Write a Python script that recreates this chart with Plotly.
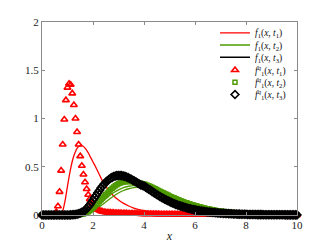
import numpy as np
import plotly.graph_objects as go

# sample grid used for the quadrature markers (step 1/16)
x_grid = np.linspace(0, 10, 161)

# f1^q(x,t1) - red triangles
red_q = [
    0, 0, 0, 0, 0, 0, 0, 0, 0, 0.03, 0.09, 0.24, 0.46, 0.73, 0.99, 1.19,
    1.32, 1.36, 1.35, 1.26, 1.14, 1.00, 0.86, 0.73, 0.61, 0.51, 0.42, 0.34, 0.27, 0.21, 0.165, 0.13,
    0.10, 0.08, 0.065, 0.055, 0.046, 0.04, 0.035, 0.031, 0.028, 0.026, 0.025, 0.024, 0.023, 0.022, 0.021, 0.02,
    0.019, 0.019, 0.018, 0.018, 0.017, 0.017, 0.016, 0.016, 0.015, 0.015, 0.014, 0.014, 0.013, 0.013, 0.012, 0.012,
    0.012, 0.011, 0.011, 0.011, 0.010, 0.010, 0.010, 0.009, 0.009, 0.009, 0.008, 0.008, 0.008, 0.008, 0.007, 0.007,
    0.007, 0.007, 0.006, 0.006, 0.006, 0.006, 0.006, 0.005, 0.005, 0.005, 0.005, 0.005, 0.004, 0.004, 0.004, 0.004,
    0.004, 0.004, 0.004, 0.003, 0.003, 0.003, 0.003, 0.003, 0.003, 0.003, 0.003, 0.002, 0.002, 0.002, 0.002, 0.002,
    0.002, 0.002, 0.002, 0.002, 0.002, 0.002, 0.002, 0.002, 0.002, 0.002, 0.002, 0.002, 0.002, 0.002, 0.002, 0.002,
    0.002, 0.002, 0.002, 0.002, 0.002, 0.002, 0.002, 0.002, 0.001, 0.001, 0.001, 0.001, 0.001, 0.001, 0.001, 0.001,
    0.001, 0.001, 0.001, 0.001, 0.001, 0.001, 0.001, 0.001, 0.001, 0.001, 0.001, 0.001, 0.001, 0.001, 0.001, 0.001,
    0.001,
]

# f1^q(x,t2) - green squares
green_q = [
    0, 0, 0, 0, 0, 0, 0, 0, 0, 0, 0, 0, 0, 0, 0, 0,
    0, 0, 0, 0, 0, 0, 0.001, 0.002, 0.004, 0.007, 0.011, 0.017, 0.024, 0.033, 0.044, 0.057,
    0.072, 0.088, 0.105, 0.122, 0.14, 0.158, 0.176, 0.194, 0.212, 0.229, 0.246, 0.262, 0.277, 0.291, 0.303, 0.314,
    0.323, 0.331, 0.337, 0.342, 0.345, 0.347, 0.348, 0.348, 0.347, 0.345, 0.343, 0.34, 0.337, 0.333, 0.329, 0.325,
    0.32, 0.315, 0.309, 0.302, 0.295, 0.287, 0.279, 0.271, 0.263, 0.255, 0.247, 0.239, 0.231, 0.222, 0.214, 0.206,
    0.198, 0.19, 0.182, 0.175, 0.167, 0.16, 0.153, 0.146, 0.139, 0.133, 0.127, 0.121, 0.115, 0.109, 0.104, 0.099,
    0.094, 0.089, 0.085, 0.081, 0.077, 0.073, 0.069, 0.065, 0.062, 0.059, 0.056, 0.053, 0.05, 0.047, 0.045, 0.042,
    0.04, 0.038, 0.036, 0.034, 0.032, 0.03, 0.029, 0.027, 0.026, 0.024, 0.023, 0.022, 0.021, 0.02, 0.019, 0.018,
    0.017, 0.016, 0.015, 0.014, 0.013, 0.013, 0.012, 0.011, 0.011, 0.01, 0.01, 0.009, 0.009, 0.008, 0.008, 0.008,
    0.007, 0.007, 0.006, 0.006, 0.006, 0.005, 0.005, 0.005, 0.005, 0.004, 0.004, 0.004, 0.004, 0.004, 0.003, 0.003,
    0.003,
]

# f1^q(x,t3) - black diamonds
black_q = [
    0, 0, 0, 0, 0, 0, 0, 0, 0, 0, 0, 0, 0, 0, 0, 0,
    0, 0, 0.001, 0.002, 0.004, 0.006, 0.009, 0.013, 0.02, 0.028, 0.037, 0.048, 0.065, 0.085, 0.105, 0.13,
    0.155, 0.18, 0.205, 0.23, 0.255, 0.28, 0.3, 0.32, 0.34, 0.355, 0.368, 0.38, 0.39, 0.398, 0.404, 0.408,
    0.41, 0.41, 0.408, 0.405, 0.4, 0.394, 0.387, 0.379, 0.37, 0.361, 0.351, 0.341, 0.331, 0.321, 0.311, 0.305,
    0.30, 0.289, 0.278, 0.267, 0.256, 0.245, 0.234, 0.223, 0.212, 0.202, 0.192, 0.182, 0.173, 0.164, 0.155, 0.147,
    0.139, 0.131, 0.124, 0.117, 0.11, 0.104, 0.098, 0.092, 0.087, 0.082, 0.077, 0.072, 0.068, 0.064, 0.06, 0.056,
    0.053, 0.05, 0.047, 0.044, 0.041, 0.039, 0.036, 0.034, 0.032, 0.03, 0.028, 0.026, 0.025, 0.023, 0.022, 0.02,
    0.019, 0.018, 0.017, 0.016, 0.015, 0.014, 0.013, 0.012, 0.011, 0.011, 0.01, 0.009, 0.009, 0.008, 0.008, 0.007,
    0.007, 0.006, 0.006, 0.006, 0.005, 0.005, 0.005, 0.004, 0.004, 0.004, 0.004, 0.003, 0.003, 0.003, 0.003, 0.003,
    0.002, 0.002, 0.002, 0.002, 0.002, 0.002, 0.002, 0.002, 0.002, 0.001, 0.001, 0.001, 0.001, 0.001, 0.001, 0.001,
    0.001,
]

# f1(x,t1) - red line
red_x = [0, 0.7, 0.75, 0.8, 0.85, 0.9, 0.95, 1.0, 1.1, 1.2, 1.3, 1.4, 1.5, 1.6, 1.7, 1.8, 1.9, 2.0,
         2.1, 2.2, 2.3, 2.4, 2.6, 2.8, 3.0, 3.2, 3.4, 3.6, 3.8, 4.0, 4.5, 5.0, 6.0, 7.0, 8.0, 10.0]
red_y = [0, 0, 0.005, 0.03, 0.08, 0.14, 0.22, 0.3, 0.45, 0.57, 0.65, 0.7, 0.72, 0.715, 0.69, 0.65, 0.6, 0.55,
         0.5, 0.445, 0.39, 0.34, 0.26, 0.2, 0.155, 0.12, 0.093, 0.072, 0.056, 0.044, 0.025, 0.015, 0.006, 0.002, 0.001, 0]

# f1(x,t2) - green lines
green_x = [0, 1.4, 1.6, 1.8, 2.0, 2.2, 2.4, 2.6, 2.8, 3.0, 3.2, 3.4, 3.6, 3.8, 4.0, 4.5,
           5.0, 5.5, 6.0, 6.5, 7.0, 7.5, 8.0, 9.0, 10.0]
green_y = [0, 0, 0.005, 0.025, 0.06, 0.1, 0.145, 0.19, 0.23, 0.26, 0.283, 0.298, 0.305, 0.305, 0.3, 0.27,
           0.22, 0.168, 0.122, 0.086, 0.059, 0.039, 0.026, 0.01, 0.004]
green_y2 = [0, 0, 0.003, 0.015, 0.04, 0.075, 0.115, 0.155, 0.195, 0.228, 0.254, 0.272, 0.283, 0.288, 0.288, 0.265,
            0.22, 0.168, 0.122, 0.086, 0.059, 0.039, 0.026, 0.01, 0.004]

# f1(x,t3) - black line
black_x = [0, 1.2, 1.5, 1.75, 2.0, 2.25, 2.5, 2.75, 3.0, 3.25, 3.5, 3.75, 4.0, 4.5, 5.0, 5.5,
           6.0, 6.5, 7.0, 7.5, 8.0, 9.0, 10.0]
black_y = [0, 0, 0.02, 0.065, 0.155, 0.255, 0.34, 0.39, 0.41, 0.4, 0.375, 0.345, 0.3, 0.21, 0.14, 0.095,
           0.053, 0.036, 0.02, 0.013, 0.007, 0.002, 0.001]

RED = "#ff0000"
GREEN = "#4d9a00"
BLACK = "#000000"
SERIF = "Liberation Serif, Times New Roman, serif"

names = [
    "<i>f</i><sub>1</sub>(<i>x</i>, <i>t</i><sub>1</sub>)",
    "<i>f</i><sub>1</sub>(<i>x</i>, <i>t</i><sub>2</sub>)",
    "<i>f</i><sub>1</sub>(<i>x</i>, <i>t</i><sub>3</sub>)",
    "<i>f</i><sup><i>q</i></sup><sub>1</sub>(<i>x</i>, <i>t</i><sub>1</sub>)",
    "<i>f</i><sup><i>q</i></sup><sub>1</sub>(<i>x</i>, <i>t</i><sub>2</sub>)",
    "<i>f</i><sup><i>q</i></sup><sub>1</sub>(<i>x</i>, <i>t</i><sub>3</sub>)",
]

fig = go.Figure()

# lines
fig.add_trace(go.Scatter(x=red_x, y=red_y, mode="lines", line=dict(color=RED, width=1.3, shape="spline"),
                         name=names[0], legend="legend"))
fig.add_trace(go.Scatter(x=green_x, y=green_y, mode="lines", line=dict(color=GREEN, width=1.3, shape="spline"),
                         name=names[1], legend="legend2"))
fig.add_trace(go.Scatter(x=green_x, y=green_y2, mode="lines", line=dict(color=GREEN, width=1.3, shape="spline"),
                         showlegend=False))
fig.add_trace(go.Scatter(x=black_x, y=black_y, mode="lines", line=dict(color=BLACK, width=1.3, shape="spline"),
                         name=names[2], legend="legend3"))

# quadrature markers
fig.add_trace(go.Scatter(x=x_grid, y=red_q, mode="markers", cliponaxis=False,
                         marker=dict(symbol="triangle-up-open", size=6, color=RED, line=dict(width=1.6, color=RED)),
                         name=names[3], legend="legend4"))
fig.add_trace(go.Scatter(x=x_grid, y=green_q, mode="markers", cliponaxis=False,
                         marker=dict(symbol="square-open", size=4, color=GREEN, line=dict(width=1.5, color=GREEN)),
                         name=names[4], legend="legend5"))
fig.add_trace(go.Scatter(x=x_grid, y=black_q, mode="markers", cliponaxis=False,
                         marker=dict(symbol="diamond-open", size=6, color=BLACK, line=dict(width=1.6, color=BLACK)),
                         name=names[5], legend="legend6"))

# one legend per row so the rows can sit closer than plotly's minimum item height
row_px = [29, 41.5, 54, 67, 79.5, 92]
legends = {}
for i, py in enumerate(row_px):
    key = "legend" if i == 0 else f"legend{i + 1}"
    legends[key] = dict(
        x=(215 - 42) / 255, xanchor="left",
        y=(215 - py) / 197, yanchor="middle",
        bgcolor="rgba(0,0,0,0)", borderwidth=0,
        font=dict(family=SERIF, size=9.5, color="#111"),
    )

axis_style = dict(
    showline=True, linecolor="#8a8a8a", linewidth=1, mirror="ticks",
    ticks="inside", ticklen=3, tickcolor="#8a8a8a",
    showgrid=False, zeroline=False, automargin=False,
    tickfont=dict(family=SERIF, size=11, color="#222"),
)

# the page body adds an 8px offset, so margins are trimmed on the top/left
fig.update_layout(
    template="none",
    width=327, height=245,
    margin=dict(l=34, r=38, t=10, b=38),
    paper_bgcolor="white", plot_bgcolor="white",
    font=dict(family=SERIF),
    showlegend=True,
    xaxis=dict(range=[0, 10], tickvals=[0, 2, 4, 6, 8, 10],
               title=dict(text="<i>x</i>", font=dict(family=SERIF, size=12, color="#222"), standoff=1),
               **axis_style),
    yaxis=dict(range=[0, 2], tickvals=[0, 0.5, 1, 1.5, 2], **axis_style),
    **legends,
)

fig.write_html("out.html")
